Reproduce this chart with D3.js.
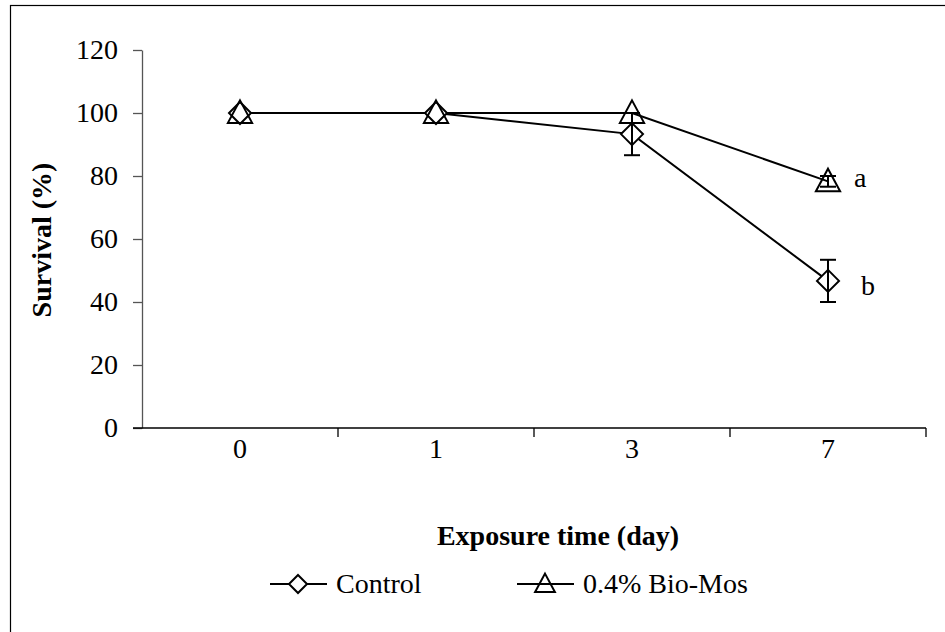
<!DOCTYPE html>
<html>
<head>
<meta charset="utf-8">
<script src="https://cdn.jsdelivr.net/npm/d3@7"></script>
<style>
  html, body { margin: 0; padding: 0; background: #fff; }
  svg { display: block; }
  text { font-family: "Liberation Serif", "Times New Roman", serif; fill: #000; }
</style>
</head>
<body>
<svg id="chart" width="945" height="632"></svg>
<script>
// Survival over exposure time
const days = ["0", "1", "3", "7"];
const controlMean = [100, 100, 93.3, 46.7];
const controlErr = [0, 0, 6.7, 6.7];
const biomosMean = [100, 100, 100, 78.3];
const biomosErr = [0, 0, 0, 1.7];
const yTicks = [0, 20, 40, 60, 80, 100, 120];
const endLabels = ["b", "a"];

const FS = "28px";
const svg = d3.select("#chart");
const W = 945, H = 632;

// outer frame (right and bottom edges fall outside the canvas)
svg.append("rect")
  .attr("x", 10.5).attr("y", 5.5)
  .attr("width", W + 20).attr("height", H + 20)
  .attr("fill", "none").attr("stroke", "#000").attr("stroke-width", 1.2);

const x0 = 142, x1 = 926, yTop = 50, yBot = 428;

const x = d3.scaleBand().domain(days).range([x0, x1]).paddingInner(0).paddingOuter(0);
const y = d3.scaleLinear().domain([0, 120]).range([yBot, yTop]);
const cx = d => x(d) + x.bandwidth() / 2;

// y axis
const yAxis = svg.append("g")
  .attr("transform", `translate(${x0},0)`)
  .call(d3.axisLeft(y).tickValues(yTicks).tickSize(9).tickPadding(15).tickSizeOuter(0));
yAxis.select(".domain").attr("stroke", "#555").attr("stroke-width", 1.3);
yAxis.selectAll(".tick line").attr("stroke", "#555").attr("stroke-width", 1.3);
yAxis.selectAll("text").style("font-size", FS).attr("fill", "#000")
  .style("font-family", "'Liberation Serif', serif");

// x axis with ticks at category boundaries
const xAxisG = svg.append("g").attr("transform", `translate(0,${yBot})`);
xAxisG.append("line")
  .attr("x1", x0 - 9).attr("x2", x1).attr("y1", 0).attr("y2", 0)
  .attr("stroke", "#000").attr("stroke-width", 1.3);
const boundaries = days.slice(1).map(d => x(d)).concat([x1]);
xAxisG.selectAll("line.tk").data(boundaries).enter().append("line")
  .attr("class", "tk")
  .attr("x1", d => d).attr("x2", d => d).attr("y1", 0).attr("y2", 9)
  .attr("stroke", "#000").attr("stroke-width", 1.3);
xAxisG.selectAll("text.lbl").data(days).enter().append("text")
  .attr("class", "lbl")
  .attr("x", d => cx(d)).attr("y", 30)
  .attr("text-anchor", "middle")
  .style("font-size", FS)
  .text(d => d);

// axis titles
svg.append("text")
  .attr("x", 558).attr("y", 545)
  .attr("text-anchor", "middle")
  .style("font-size", FS).style("font-weight", "bold")
  .text("Exposure time (day)");
svg.append("text")
  .attr("transform", `translate(51,240) rotate(-90)`)
  .attr("text-anchor", "middle")
  .style("font-size", FS).style("font-weight", "bold")
  .text("Survival (%)");

const line = d3.line().x((d, i) => cx(days[i])).y(d => y(d));

function diamond(g, px, py, r) {
  g.append("path")
    .attr("d", `M${px},${py - r}L${px + r},${py}L${px},${py + r}L${px - r},${py}Z`)
    .attr("fill", "#fff").attr("stroke", "#000").attr("stroke-width", 2);
}
function triangle(g, px, py, r) {
  g.append("path")
    .attr("d", `M${px},${py - r * 1.15}L${px + r * 1.1},${py + r * 0.9}L${px - r * 1.1},${py + r * 0.9}Z`)
    .attr("fill", "none").attr("stroke", "#000").attr("stroke-width", 2);
}

const series = [
  { mean: controlMean, err: controlErr, marker: diamond },
  { mean: biomosMean, err: biomosErr, marker: triangle }
];

const plot = svg.append("g");
series.forEach(s => {
  plot.append("path").datum(s.mean)
    .attr("d", line)
    .attr("fill", "none").attr("stroke", "#000").attr("stroke-width", 2);
});
series.forEach(s => {
  s.mean.forEach((v, i) => {
    const px = cx(days[i]);
    s.marker(plot, px, y(v), 11);
  });
});
// error bars
series.forEach(s => {
  s.mean.forEach((v, i) => {
    const e = s.err[i];
    if (!e) return;
    const px = cx(days[i]);
    const lo = y(v - e), hi = y(Math.min(v + e, 120));
    plot.append("line").attr("x1", px).attr("x2", px).attr("y1", lo).attr("y2", hi)
      .attr("stroke", "#000").attr("stroke-width", 2);
    [lo, hi].forEach(yy => plot.append("line")
      .attr("x1", px - 8).attr("x2", px + 8).attr("y1", yy).attr("y2", yy)
      .attr("stroke", "#000").attr("stroke-width", 2));
  });
});

// significance letters at the last point
const last = days.length - 1;
plot.append("text")
  .attr("x", cx(days[last]) + 33).attr("y", y(controlMean[last]) + 14)
  .style("font-size", FS).text(endLabels[0]);
plot.append("text")
  .attr("x", cx(days[last]) + 26).attr("y", y(biomosMean[last]) + 6)
  .style("font-size", FS).text(endLabels[1]);

// legend
const legendY = 584;
const legendItems = [
  { name: "Control", x: 270, marker: diamond },
  { name: "0.4% Bio-Mos", x: 517, marker: triangle }
];
legendItems.forEach(it => {
  const g = svg.append("g");
  g.append("line").attr("x1", it.x).attr("x2", it.x + 57)
    .attr("y1", legendY).attr("y2", legendY)
    .attr("stroke", "#000").attr("stroke-width", 2);
  it.marker(g, it.x + 28, legendY, 9);
  g.append("text").attr("x", it.x + 66).attr("y", legendY + 9)
    .style("font-size", FS).text(it.name);
});
</script>
</body>
</html>
